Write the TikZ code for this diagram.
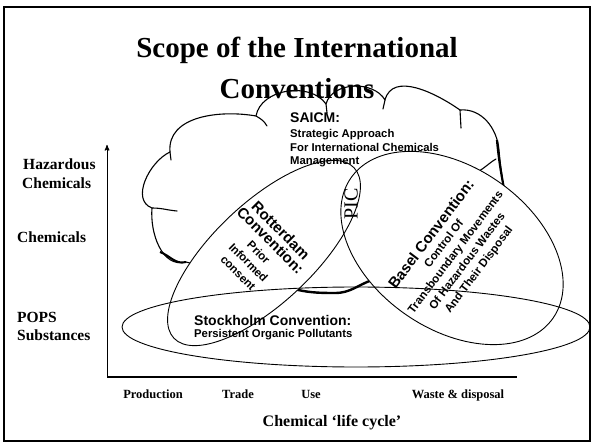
\documentclass[tikz,border=0pt]{standalone}
\usepackage{fontspec}
\setmainfont{Liberation Serif}
\setsansfont{Liberation Sans}
\usepackage{tikz}
\usetikzlibrary{arrows}

\newcommand{\convtitle}{\fontsize{15}{17}\selectfont}

\begin{document}
\begin{tikzpicture}[x=1pt,y=1pt,
  lab/.style={font=\fontsize{15.5}{18}\selectfont\bfseries,anchor=base west,inner sep=0pt},
  stage/.style={font=\fontsize{12.5}{15}\selectfont\bfseries,anchor=base,inner sep=0pt},
  conv/.style={font=\fontsize{11.5}{14.5}\selectfont\sffamily\bfseries,align=center,inner sep=0pt},
  saicm/.style={font=\fontsize{11.3}{14}\selectfont\sffamily\bfseries,anchor=base west,inner sep=0pt},
  cloudline/.style={line width=1.1pt,line join=round,line cap=round},
  oval/.style={line width=0.9pt}]
\useasboundingbox (0,0) rectangle (594,-446);
\draw[line width=1.5pt] (4,-7) rectangle (590,-441);

\node[font=\fontsize{29}{34}\selectfont\bfseries,anchor=base] (T1) at (297,-58)  {Scope of the International};
\node[font=\fontsize{29}{34}\selectfont\bfseries,anchor=base] (T2) at (297,-99) {Conventions};

% SAICM cloud
\draw[cloudline] (186,-262) to[out=195,in=265] (152,-208)
  to[out=160,in=205] (170,-152)
  to[out=95,in=170] (256,-116)
  to[out=80,in=125] (326,-104)
  to[out=75,in=120] (385,-100)
  to[out=75,in=145] (460,-110)
  to[out=5,in=95] (499,-150)
  to[out=-85,in=100] (506,-200)
  to[out=-100,in=20] (372,-280)
  to[out=200,in=0] (335,-293)
  to[out=180,in=-15] (290,-288)
  to[out=165,in=-15] (186,-262);
\draw[line width=2.4pt] (372,-280) to[out=200,in=0] (335,-293) to[out=180,in=-15] (290,-288);
\draw[line width=2.2pt] (497,-140) to[out=-85,in=100] (506,-200);
\draw[line width=2pt] (160,-252) to[out=-20,in=195] (186,-262);
\draw[cloudline] (152,-208) to[out=0,in=175] (177,-211);
\draw[cloudline] (170,-152) -- (171,-160);
\draw[cloudline] (256,-116) to[out=-30,in=120] (267,-126);
\draw[cloudline] (326,-104) -- (327,-113);
\draw[cloudline] (385,-100) -- (383,-109);
\draw[cloudline] (460,-110) -- (461,-128);
\draw[cloudline] (496,-159) to[out=210,in=30] (479,-171);

% conventions
\fill[white,rotate around={43.4:(264,-253)}] (264,-253) ellipse (124 and 50);
\fill[white,rotate around={-34.7:(452,-248)}] (452,-248) ellipse (123 and 81);
\draw[oval,rotate around={43.4:(264,-253)}] (264,-253) ellipse (124 and 50);
\draw[oval,rotate around={-34.7:(452,-248)}] (452,-248) ellipse (123 and 81);
\draw[oval] (356,-327) ellipse (234 and 40);

\node[saicm,font=\fontsize{14}{16}\selectfont\sffamily\bfseries] (S0) at (290,-123) {SAICM:};
\node[saicm] (S1) at (290,-138) {Strategic Approach};
\node[saicm] (S2) at (290,-152) {For International Chemicals};
\node[saicm] (S3) at (290,-165) {Management};

\node[conv,rotate=-45] (R) at (260,-251)
  {\convtitle Rotterdam\\ \convtitle Convention:\\[1pt] Prior\\ Informed\\ consent};
\node[conv,rotate=53] (B) at (455,-252)
  {\convtitle Basel Convention:\\ Control Of\\ Transboundary Movements\\ Of Hazardous Wastes\\ And Their Disposal};
\node[font=\fontsize{20}{22}\selectfont,rotate=90,inner sep=0pt] (P) at (351,-204) {PIC};
\node[saicm,font=\fontsize{14}{16}\selectfont\sffamily\bfseries] (St) at (194,-325) {Stockholm Convention:};
\node[saicm] (Sp) at (194,-337) {Persistent Organic Pollutants};

% axes
\coordinate (O) at (107,-377);
\coordinate (Y) at (107,-145);
\coordinate (X) at (517,-377);
\draw[line width=1.5pt] (O) -- (X);
\draw[->,>=stealth',line width=1pt] (O) -- (Y);

\node[lab] (H1) at (23,-170) {Hazardous};
\node[lab] (H2) at (22,-189) {Chemicals};
\node[lab] (C)  at (17,-243) {Chemicals};
\node[lab] (P1) at (17,-322) {POPS};
\node[lab] (P2) at (17,-340) {Substances};

\node[stage] (s1) at (153,-398) {Production};
\node[stage] (s2) at (238,-398) {Trade};
\node[stage] (s3) at (311,-398) {Use};
\node[stage] (s4) at (458,-398) {Waste \& disposal};
\node[font=\fontsize{16}{18}\selectfont\bfseries,anchor=base] (L) at (332,-426) {Chemical ‘life cycle’};
\end{tikzpicture}
\end{document}
